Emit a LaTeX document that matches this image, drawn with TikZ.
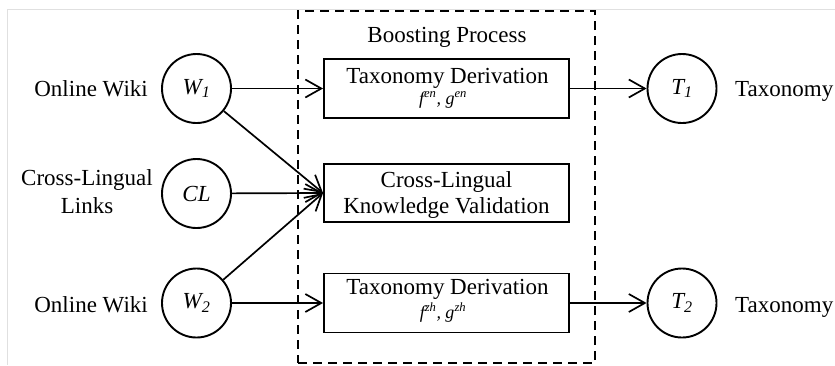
\documentclass[tikz,border=0pt]{standalone}
\usepackage{fontspec}
\setmainfont{Liberation Serif}
\usetikzlibrary{arrows.meta}

\begin{document}
\begin{tikzpicture}[x=1pt,y=-1pt,
  state/.style={circle, draw, line width=1.9pt, minimum size=69pt, inner sep=0pt,
                font=\fontsize{23}{23}\selectfont\itshape},
  procbox/.style={draw, line width=1.9pt, minimum width=245pt, minimum height=59pt, inner sep=0pt},
  lbl/.style={font=\fontsize{23}{23}\selectfont, inner sep=0pt},
  formula/.style={font=\fontsize{18}{18}\selectfont\itshape, inner sep=0pt},
  flow/.style={line width=1.7pt, -{Straight Barb[length=16pt,width=18pt,line width=1.7pt]}},
  frame/.style={draw, dash pattern=on 9pt off 6pt, line width=1.9pt}]
\useasboundingbox (0,0) rectangle (835,365);

% faint outer border
\draw[black!12, line width=0.8pt] (7,365) -- (7,9.5) -- (835,9.5);

% boosting process frame
\node[frame, minimum width=297pt, minimum height=352pt, inner sep=0pt] (boost) at (446.5,187) {};
\node[lbl, anchor=base] (boosttitle) at (447,42) {Boosting Process};

% input nodes
\node[state] (w1) at (196.5,88.5) {W\textsubscript{1}};
\node[state] (cl) at (196.5,193.5) {CL};
\node[state] (w2) at (196.5,303) {W\textsubscript{2}};

\node[lbl, anchor=base east] (w1lbl) at (148,96.5) {Online Wiki};
\node[lbl, anchor=base] (cllbl1) at (87,185) {Cross-Lingual};
\node[lbl, anchor=base] (cllbl2) at (87,213) {Links};
\node[lbl, anchor=base east] (w2lbl) at (148,312.5) {Online Wiki};

% process boxes
\node[procbox] (d1) at (446.5,88.5) {};
\node[lbl, anchor=base] (d1title) at (447.5,83) {Taxonomy Derivation};
\node[formula, anchor=base] (d1f) at (443,104) {f\textsuperscript{en}, g\textsuperscript{en}};

\node[procbox, minimum height=58pt] (cv) at (446.5,193) {};
\node[lbl, anchor=base] (cvt1) at (446.5,187) {Cross-Lingual};
\node[lbl, anchor=base] (cvt2) at (446.5,213) {Knowledge Validation};

\node[procbox] (d2) at (446.5,303) {};
\node[lbl, anchor=base] (d2title) at (447.5,294) {Taxonomy Derivation};
\node[formula, anchor=base] (d2f) at (443,318) {f\textsuperscript{zh}, g\textsuperscript{zh}};

% outputs
\node[state] (t1) at (682,88.5) {T\textsubscript{1}};
\node[state] (t2) at (682,303) {T\textsubscript{2}};
\node[lbl, anchor=base west] (t1lbl) at (735,96.5) {Taxonomy};
\node[lbl, anchor=base west] (t2lbl) at (735,312) {Taxonomy};

% connectors
\draw[flow] (w1) -- (d1);
\draw[flow] (w1) -- (cv.west);
\draw[flow] (cl) -- (cv.west);
\draw[flow] (w2) -- (cv.west);
\draw[flow] (w2) -- (d2);
\draw[flow] (d1) -- (t1);
\draw[flow] (d2) -- (t2);
\end{tikzpicture}
\end{document}
